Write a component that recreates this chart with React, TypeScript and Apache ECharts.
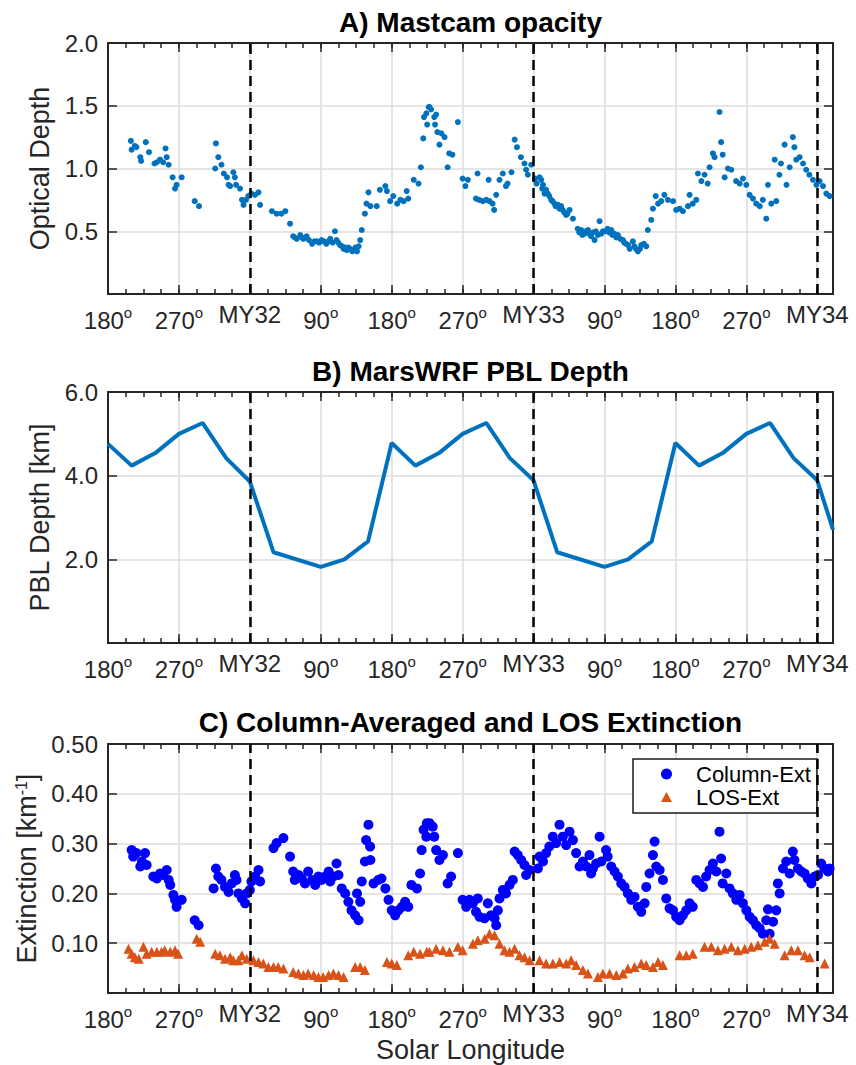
import React, { useEffect, useRef } from 'react';
import * as echarts from 'echarts';

// ---------- axis definitions ----------
const X_MIN = 180;
const X_MAX = 1100;
const X_TICK_VALUES = [180, 270, 360, 450, 540, 630, 720, 810, 900, 990, 1080];
const X_TICK_LABELS = ['180', '270', 'MY32', '90', '180', '270', 'MY33', '90', '180', '270', 'MY34'];
const MARS_YEAR_STARTS = [360, 720, 1080];

const TITLES = ['A) Mastcam opacity', 'B) MarsWRF PBL Depth', 'C) Column-Averaged and LOS Extinction'];
const Y_NAMES = ['Optical Depth', 'PBL Depth [km]', 'Extinction [km{s|-1}]'];
const Y_MAX = [2.0, 6.0, 0.5];
const Y_INTERVAL = [0.5, 2.0, 0.1];
const Y_DECIMALS = [1, 1, 2];
const LEGEND_NAMES = ['Column-Ext', 'LOS-Ext'];

// ---------- data (cumulative Ls: MY32 starts at 360, MY33 at 720, MY34 at 1080) ----------
const MASTCAM_TAU: [number, number][] = [
  [209, 1.22], [210, 1.15], [214, 1.18], [216, 1.17], [221, 1.09], [222, 1.06], [228, 1.21], [232, 1.13],
  [239, 1.04], [242, 1.05], [246, 1.07], [250, 1.05], [253, 1.16], [254.5, 1.09], [257, 1.03], [262, 0.93],
  [265, 0.84], [267, 0.87], [273.5, 0.93], [290, 0.74], [295.5, 0.70], [316, 1.00], [317, 1.20], [320, 1.09],
  [324, 1.03], [327, 0.96], [331, 0.93], [333, 0.87], [335, 0.86], [339, 0.97], [341, 0.93], [342.5, 0.87],
  [347.5, 0.84], [350, 0.75], [352, 0.71], [355, 0.75], [358, 0.78], [362, 0.80], [366.6, 0.79], [371, 0.81],
  [373, 0.71], [388, 0.66], [394, 0.64], [400, 0.64], [405, 0.66], [411, 0.56], [415, 0.46], [417, 0.45],
  [419.5, 0.44], [424, 0.47], [426, 0.45], [428, 0.44], [432, 0.46], [435, 0.43], [439, 0.40], [442, 0.42],
  [445, 0.42], [448, 0.41], [451, 0.43], [454, 0.42], [457, 0.40], [460, 0.42], [462, 0.44], [465, 0.41],
  [468, 0.50], [470, 0.43], [472, 0.41], [474.5, 0.39], [477, 0.38], [479, 0.36], [481, 0.37], [483, 0.35],
  [485, 0.37], [487, 0.36], [490, 0.34], [492, 0.35], [494, 0.37], [496, 0.34], [498, 0.38], [500, 0.43],
  [502, 0.51], [506, 0.64], [508, 0.72], [510.5, 0.81], [513, 0.70], [521, 0.70], [525, 0.83], [532, 0.86],
  [534, 0.82], [538, 0.74], [542, 0.78], [547, 0.72], [551, 0.75], [555, 0.74], [559, 0.82], [561, 0.76],
  [568, 0.91], [574, 0.88], [577, 1.01], [580, 1.24], [581, 1.41], [584, 1.44], [585, 1.35], [587, 1.49],
  [588, 1.49], [590, 1.47], [594, 1.41], [596.4, 1.43], [595, 1.35], [598, 1.29], [600.6, 1.19], [603, 1.28],
  [607, 1.25], [611, 1.01], [613, 1.12], [617, 1.11], [624, 1.37], [630, 0.92], [633.6, 0.86], [636.6, 0.91],
  [647, 0.76], [649, 0.96], [651, 0.75], [655.6, 0.74], [660, 0.75], [663, 0.91], [664, 0.74], [668, 0.72],
  [670, 0.67], [672.6, 0.79], [676.8, 0.91], [681, 0.96], [685, 0.86], [687, 0.88], [692, 0.97], [696, 1.23],
  [699, 1.17], [704, 1.09], [708.5, 1.04], [710.6, 0.99], [712.8, 0.95], [717, 1.03], [722, 0.92], [724, 0.88],
  [727.6, 0.93], [729.7, 0.91], [731, 0.84], [732, 0.87], [734, 0.80], [736, 0.83], [738, 0.80], [740, 0.78],
  [742.4, 0.75], [744, 0.74], [746.6, 0.72], [748, 0.70], [751, 0.71], [753, 0.68], [755, 0.70], [757, 0.67],
  [759, 0.65], [761.4, 0.63], [763, 0.64], [765.7, 0.67], [770, 0.60], [776, 0.52], [778, 0.49], [780.5, 0.51],
  [782, 0.47], [784.7, 0.48], [786, 0.50], [789, 0.51], [791, 0.48], [793, 0.46], [795, 0.49], [797.4, 0.43],
  [799, 0.50], [801.6, 0.47], [803.8, 0.58], [806, 0.48], [808, 0.50], [811, 0.50], [814, 0.52], [816, 0.49],
  [818.6, 0.51], [820, 0.47], [822.8, 0.48], [825, 0.45], [827, 0.47], [830, 0.44], [833.4, 0.43], [835, 0.41],
  [837.6, 0.40], [840, 0.39], [842, 0.36], [846, 0.42], [848, 0.38], [850, 0.36], [852.4, 0.34], [855, 0.36],
  [856.7, 0.39], [860, 0.40], [863, 0.38], [865, 0.51], [869.4, 0.59], [871.5, 0.68], [875, 0.78], [878, 0.72],
  [882, 0.74], [886, 0.79], [890.5, 0.75], [897, 0.74], [901, 0.67], [905.3, 0.68], [909.5, 0.66], [916, 0.70],
  [918, 0.79], [922, 0.72], [926.5, 0.75], [928.6, 0.96], [933, 0.90], [937, 0.95], [941, 0.88], [943.4, 1.01],
  [947.6, 1.12], [949.7, 1.09], [956, 1.45], [958, 1.21], [960, 1.11], [962.5, 0.93], [966.7, 1.00], [971, 0.99],
  [977, 0.90], [981.5, 0.88], [985.7, 0.92], [990, 0.87], [994.2, 0.79], [998.4, 0.76], [1002.6, 0.72], [1007, 0.70],
  [1011, 0.75], [1015.3, 0.60], [1017.5, 0.87], [1021.7, 0.72], [1026, 1.07], [1028, 0.74], [1032, 0.95], [1034, 1.04],
  [1038.6, 1.19], [1041, 0.87], [1045, 1.01], [1049, 1.25], [1051, 1.17], [1053.4, 1.07], [1057.6, 1.09], [1062, 1.04],
  [1066, 0.99], [1070, 0.95], [1074.6, 0.91], [1079, 0.87], [1083, 0.90], [1087.3, 0.86], [1091.5, 0.80], [1095.7, 0.78],
];

const PBL_LS = [180, 210, 240, 270, 300, 330, 360, 390, 450, 480, 510, 540, 570, 600, 630, 660, 690, 720, 750, 810, 840, 870, 900, 930, 960, 990, 1020, 1050, 1080, 1100];
const PBL_KM = [4.76, 4.24, 4.54, 5.0, 5.26, 4.42, 3.86, 2.17, 1.82, 2.0, 2.43, 4.78, 4.24, 4.54, 5.0, 5.26, 4.42, 3.89, 2.17, 1.82, 2.0, 2.43, 4.78, 4.24, 4.54, 5.0, 5.26, 4.42, 3.89, 2.71];

const COLUMN_EXT: [number, number][] = [
  [210, 0.287], [212, 0.274], [216, 0.281], [221, 0.254], [223, 0.264], [227, 0.281], [229, 0.257], [237.5, 0.234],
  [242, 0.230], [246, 0.240], [250, 0.237], [254.5, 0.247], [257, 0.227], [259, 0.217], [263, 0.197], [265, 0.187],
  [267, 0.173], [273.5, 0.187], [290, 0.146], [295, 0.136], [314, 0.210], [317, 0.250], [320, 0.234], [324, 0.227],
  [328.5, 0.213], [333, 0.203], [337, 0.220], [341, 0.237], [343, 0.227], [345.5, 0.200], [350, 0.190], [354, 0.180],
  [356, 0.200], [360, 0.207], [362, 0.224], [366.6, 0.234], [371, 0.247], [373, 0.224], [390, 0.291], [394, 0.301],
  [402.6, 0.311], [411, 0.274], [415, 0.244], [417, 0.227], [422, 0.237], [426, 0.230], [430, 0.220], [434, 0.244],
  [439, 0.227], [443, 0.217], [447, 0.234], [451, 0.227], [455.5, 0.234], [460, 0.244], [462, 0.224], [466, 0.234],
  [470, 0.260], [472.5, 0.237], [476.6, 0.210], [481, 0.200], [485, 0.183], [489, 0.166], [493.6, 0.156], [498, 0.146],
  [496, 0.200], [500, 0.183], [502, 0.224], [506, 0.264], [507.5, 0.307], [510.5, 0.338], [512.6, 0.294], [513, 0.267],
  [517, 0.220], [523, 0.227], [527, 0.230], [532, 0.210], [536, 0.187], [540, 0.166], [544.4, 0.156], [548.6, 0.166],
  [553, 0.173], [557, 0.183], [561, 0.173], [565, 0.217], [572, 0.210], [576, 0.240], [578, 0.287], [580.5, 0.328],
  [584.6, 0.341], [584, 0.314], [588, 0.341], [592, 0.334], [594, 0.314], [596.4, 0.287], [600.6, 0.267], [605, 0.277],
  [611, 0.220], [615.4, 0.234], [624, 0.281], [630, 0.187], [634.5, 0.173], [638.7, 0.187], [643, 0.180], [647, 0.163],
  [649.3, 0.190], [651.4, 0.153], [657.8, 0.150], [662, 0.180], [666, 0.156], [670.5, 0.150], [672.6, 0.136], [674.7, 0.166],
  [676.8, 0.190], [681, 0.207], [685, 0.200], [689.5, 0.217], [693.7, 0.227], [696, 0.284], [700, 0.277], [704.3, 0.267],
  [708.5, 0.257], [710.6, 0.237], [715, 0.247], [725.5, 0.250], [727.6, 0.274], [732, 0.264], [736, 0.281], [740, 0.294],
  [744.5, 0.314], [748.7, 0.301], [753, 0.338], [757.2, 0.314], [761.4, 0.297], [765.7, 0.324], [770, 0.307], [774, 0.281],
  [778.4, 0.254], [782.6, 0.264], [787, 0.254], [791, 0.277], [793, 0.240], [795.3, 0.250], [799.5, 0.260], [803.8, 0.314],
  [806, 0.264], [812, 0.287], [814, 0.274], [818.6, 0.254], [822.8, 0.244], [827, 0.234], [831.3, 0.220], [835.5, 0.213],
  [839.7, 0.200], [844, 0.187], [848.2, 0.193], [852.4, 0.173], [856.7, 0.163], [861, 0.180], [863, 0.213], [867.2, 0.240],
  [871.5, 0.277], [873.6, 0.304], [875.7, 0.254], [880, 0.247], [884.2, 0.227], [888.4, 0.190], [892.6, 0.170], [897, 0.166],
  [901, 0.153], [905.3, 0.146], [909.5, 0.156], [913.8, 0.166], [918, 0.180], [922, 0.173], [926.5, 0.227], [930.7, 0.220],
  [935, 0.213], [939, 0.234], [943.4, 0.247], [947.6, 0.260], [952, 0.244], [956, 0.324], [958, 0.270], [960, 0.220],
  [964.6, 0.240], [968.8, 0.210], [973, 0.200], [977.3, 0.187], [981.5, 0.197], [985.7, 0.180], [990, 0.166], [994.2, 0.153],
  [998.4, 0.146], [1002.6, 0.136], [1007, 0.130], [1011, 0.119], [1015.3, 0.146], [1017.5, 0.168], [1019.6, 0.119], [1024, 0.143],
  [1028, 0.166], [1030, 0.220], [1032.3, 0.200], [1036.5, 0.250], [1040.7, 0.264], [1045, 0.240], [1049, 0.284], [1051, 0.267],
  [1055.5, 0.250], [1059.8, 0.244], [1064, 0.240], [1068, 0.230], [1072.5, 0.220], [1076.7, 0.234], [1081, 0.237], [1085, 0.260],
  [1089, 0.250], [1093.6, 0.244], [1095.7, 0.250],
];

const LOS_EXT: [number, number][] = [
  [206, 0.089], [210, 0.079], [214, 0.072], [219, 0.069], [225, 0.093], [229, 0.079], [235.4, 0.083], [242, 0.083],
  [248, 0.083], [252, 0.086], [259, 0.083], [265, 0.086], [269, 0.079], [292.5, 0.109], [297, 0.103], [316, 0.079],
  [322, 0.076], [328.5, 0.069], [335, 0.072], [339, 0.066], [345.5, 0.066], [350, 0.076], [356, 0.069], [364.5, 0.066],
  [371, 0.062], [377, 0.059], [383.5, 0.052], [390, 0.052], [396, 0.052], [402.6, 0.049], [415, 0.042], [421.6, 0.039],
  [428, 0.036], [434, 0.039], [441, 0.036], [447, 0.032], [453, 0.032], [460, 0.036], [466, 0.039], [472.5, 0.036],
  [479, 0.032], [493.6, 0.052], [500, 0.052], [506, 0.046], [534, 0.062], [540, 0.059], [546.5, 0.056], [561, 0.076],
  [568, 0.083], [576, 0.079], [584.6, 0.083], [588, 0.083], [596.4, 0.089], [605, 0.086], [613.3, 0.083], [624, 0.093],
  [630, 0.086], [643, 0.099], [649.3, 0.106], [658, 0.109], [664, 0.119], [670.5, 0.116], [676.8, 0.099], [683, 0.086],
  [689.5, 0.083], [696, 0.089], [702.2, 0.076], [708.5, 0.072], [715, 0.066], [727.6, 0.066], [736, 0.059], [744.5, 0.059],
  [753, 0.062], [761.4, 0.059], [767.8, 0.066], [774, 0.056], [782.6, 0.046], [789, 0.039], [801.6, 0.032], [808, 0.039],
  [816.5, 0.039], [825, 0.036], [833.4, 0.039], [839.7, 0.049], [848.2, 0.052], [856.7, 0.059], [863, 0.056], [871.5, 0.052],
  [878, 0.062], [884.2, 0.056], [905.3, 0.076], [913.8, 0.076], [922, 0.079], [937, 0.093], [945.6, 0.093], [954, 0.086],
  [962.5, 0.089], [971, 0.093], [979.4, 0.086], [988, 0.089], [996.3, 0.093], [1004.7, 0.096], [1013.2, 0.103], [1019.6, 0.109],
  [1026, 0.099], [1038.6, 0.076], [1047, 0.086], [1055.5, 0.086], [1064, 0.076], [1070.4, 0.072], [1089.4, 0.059],
];

// ---------- styling / layout ----------
const FONT = '"Liberation Sans", Arial, Helvetica, sans-serif';
const AXIS_COLOR = '#262626';
const GRID_COLOR = '#dcdcdc';
const GRID_TOPS = [43, 392, 744];
const GRID_HEIGHTS = [251, 251, 249];
const GRID_LEFT = 108;
const GRID_WIDTH = 725;
const TITLE_TOPS = [8, 357, 708];
const NAME_GAPS = [55, 55, 66];

const axisLineStyle = { color: AXIS_COLOR, width: 2 };
const tickLineStyle = { color: AXIS_COLOR, width: 1.5 };

function xLabel(v: number): string {
  const i = X_TICK_VALUES.indexOf(Math.round(v));
  if (i < 0 || Math.abs(v - Math.round(v)) > 1e-6) return '';
  const t = X_TICK_LABELS[i];
  return t.startsWith('MY') ? `{m|${t}}` : `{n|${t}}{s|o}`;
}

function xAxesFor(g: number) {
  const common = { gridIndex: g, type: 'value', min: X_MIN, max: X_MAX };
  return [
    {
      ...common,
      position: 'bottom',
      interval: 90,
      axisLine: { show: true, onZero: false, lineStyle: axisLineStyle },
      axisTick: { show: true, inside: true, length: 9, lineStyle: tickLineStyle },
      axisLabel: {
        show: true,
        margin: 11,
        formatter: xLabel,
        showMinLabel: true,
        showMaxLabel: true,
        hideOverlap: false,
        rich: {
          n: { fontSize: 24, lineHeight: 30, color: AXIS_COLOR, fontFamily: FONT },
          s: { fontSize: 15, lineHeight: 14, verticalAlign: 'top', color: AXIS_COLOR, fontFamily: FONT },
          m: { fontSize: 24, lineHeight: 18, color: AXIS_COLOR, fontFamily: FONT },
        },
      },
      splitLine: { show: true, lineStyle: { color: GRID_COLOR, width: 1.5 } },
      ...(g === 2
        ? {
            name: 'Solar Longitude',
            nameLocation: 'middle',
            nameGap: 43,
            nameTextStyle: { fontSize: 27, color: AXIS_COLOR, fontFamily: FONT, lineHeight: 27 },
          }
        : {}),
    },
    {
      ...common,
      position: 'bottom',
      interval: 22.5,
      axisLine: { show: false, onZero: false },
      axisTick: { show: true, inside: true, length: 5, lineStyle: tickLineStyle },
      axisLabel: { show: false },
      splitLine: { show: false },
    },
    {
      ...common,
      position: 'top',
      interval: 90,
      axisLine: { show: true, onZero: false, lineStyle: axisLineStyle },
      axisTick: { show: true, inside: true, length: 9, lineStyle: tickLineStyle },
      axisLabel: { show: false },
      splitLine: { show: false },
    },
    {
      ...common,
      position: 'top',
      interval: 22.5,
      axisLine: { show: false, onZero: false },
      axisTick: { show: true, inside: true, length: 5, lineStyle: tickLineStyle },
      axisLabel: { show: false },
      splitLine: { show: false },
    },
  ];
}

function yAxesFor(g: number) {
  const common = { gridIndex: g, type: 'value', min: 0, max: Y_MAX[g], interval: Y_INTERVAL[g] };
  return [
    {
      ...common,
      position: 'left',
      axisLine: { show: true, onZero: false, lineStyle: axisLineStyle },
      axisTick: { show: true, inside: true, length: 9, lineStyle: tickLineStyle },
      axisLabel: {
        show: true,
        margin: 10,
        fontSize: 24,
        color: AXIS_COLOR,
        fontFamily: FONT,
        formatter: (v: number) => (Math.abs(v) < 1e-9 ? '' : v.toFixed(Y_DECIMALS[g])),
      },
      splitLine: { show: true, lineStyle: { color: GRID_COLOR, width: 1.5 } },
      name: Y_NAMES[g],
      nameLocation: 'middle',
      nameGap: NAME_GAPS[g],
      nameTextStyle: {
        fontSize: 27,
        lineHeight: 27,
        color: AXIS_COLOR,
        fontFamily: FONT,
        rich: {
          s: { fontSize: 16, lineHeight: 14, verticalAlign: 'top', color: AXIS_COLOR, fontFamily: FONT },
        },
      },
    },
    {
      ...common,
      position: 'right',
      axisLine: { show: true, onZero: false, lineStyle: axisLineStyle },
      axisTick: { show: true, inside: true, length: 9, lineStyle: tickLineStyle },
      axisLabel: { show: false },
      splitLine: { show: false },
    },
  ];
}

const dashedYearLines = {
  silent: true,
  symbol: ['none', 'none'],
  label: { show: false },
  lineStyle: { type: [10, 6], color: '#000000', width: 2.5 },
  emphasis: { disabled: true },
  data: MARS_YEAR_STARTS.map((v) => ({ xAxis: v })),
};

export default function App() {
  const ref = useRef<HTMLDivElement>(null);

  useEffect(() => {
    if (!ref.current) return;
    const chart = echarts.init(ref.current, undefined, { renderer: 'svg' });

    const option: any = {
      animation: false,
      backgroundColor: '#ffffff',
      title: TITLES.map((t, i) => ({
        text: t,
        left: GRID_LEFT + GRID_WIDTH / 2,
        top: TITLE_TOPS[i],
        textAlign: 'center',
        padding: 0,
        textStyle: { fontSize: 28, fontWeight: 'bold', color: '#000000', fontFamily: FONT, lineHeight: 28 },
      })),
      grid: GRID_TOPS.map((top, i) => ({
        left: GRID_LEFT,
        top,
        width: GRID_WIDTH,
        height: GRID_HEIGHTS[i],
        containLabel: false,
      })),
      xAxis: [...xAxesFor(0), ...xAxesFor(1), ...xAxesFor(2)],
      yAxis: [...yAxesFor(0), ...yAxesFor(1), ...yAxesFor(2)],
      legend: {
        data: [
          { name: LEGEND_NAMES[0], icon: 'circle' },
          { name: LEGEND_NAMES[1], icon: 'path://M5,0L10,9L0,9Z' },
        ],
        orient: 'vertical',
        left: 633,
        top: 759,
        padding: [4, 6, 5, 28],
        itemWidth: 11,
        itemHeight: 11,
        itemGap: 1,
        backgroundColor: '#ffffff',
        borderColor: '#1a1a1a',
        borderWidth: 1.5,
        borderRadius: 0,
        selectedMode: false,
        textStyle: { fontSize: 22, color: '#000000', fontFamily: FONT, padding: [0, 0, 0, 19] },
      },
      series: [
        {
          name: 'Mastcam',
          type: 'scatter',
          xAxisIndex: 0,
          yAxisIndex: 0,
          data: MASTCAM_TAU,
          symbol: 'circle',
          symbolSize: 6,
          itemStyle: { color: '#0072BD', opacity: 1 },
          markLine: dashedYearLines,
        },
        {
          name: 'PBL',
          type: 'line',
          xAxisIndex: 4,
          yAxisIndex: 2,
          data: PBL_LS.map((x, i) => [x, PBL_KM[i]]),
          showSymbol: false,
          symbol: 'none',
          lineStyle: { width: 4, color: '#0072BD' },
          itemStyle: { color: '#0072BD' },
          markLine: dashedYearLines,
        },
        {
          name: LEGEND_NAMES[0],
          type: 'scatter',
          xAxisIndex: 8,
          yAxisIndex: 4,
          data: COLUMN_EXT,
          symbol: 'circle',
          symbolSize: 10,
          itemStyle: { color: '#0000FF', opacity: 1 },
          markLine: dashedYearLines,
        },
        {
          name: LEGEND_NAMES[1],
          type: 'scatter',
          xAxisIndex: 8,
          yAxisIndex: 4,
          data: LOS_EXT,
          symbol: 'triangle',
          symbolSize: 10,
          itemStyle: { color: '#D95319', opacity: 1 },
        },
      ],
    };

    chart.setOption(option);
    return () => chart.dispose();
  }, []);

  return (
    <div
      ref={ref}
      style={{ position: 'absolute', left: 0, top: 0, width: 856, height: 1065, background: '#ffffff' }}
    />
  );
}
